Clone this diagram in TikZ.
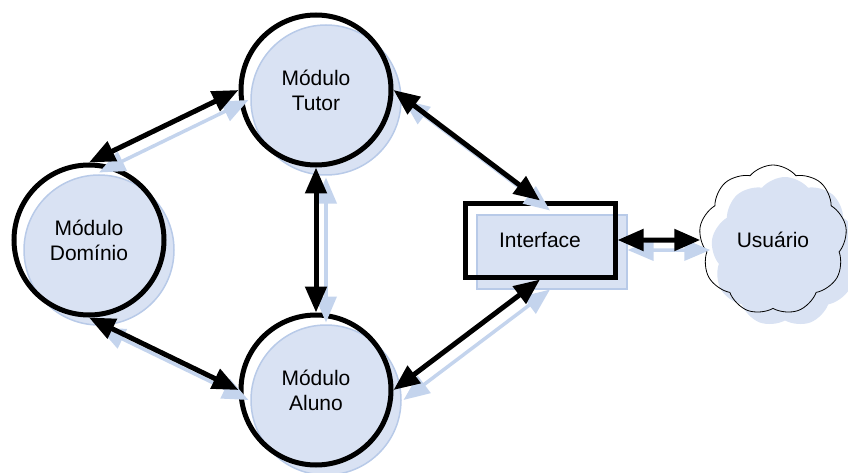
\documentclass[tikz,border=0pt]{standalone}
\usepackage{fontspec}
\setmainfont{Liberation Sans}
\usetikzlibrary{positioning,shapes.symbols,arrows.meta}

\definecolor{azulfundo}{RGB}{217,226,243}
\definecolor{azulborda}{RGB}{184,202,232}
\definecolor{azulseta}{RGB}{196,212,237}

\tikzset{
  sombra/.style={preaction={draw=azulborda,line width=1.5pt,fill=azulfundo,transform canvas={shift={(#1,-#1)}}}},
  modulo/.style={circle,draw=black,line width=5pt,minimum size=150pt,inner sep=0pt,align=center,sombra=10pt},
  caixa/.style={rectangle,draw=black,line width=5pt,minimum width=150pt,minimum height=74pt,sombra=12pt},
  nuvem/.style={cloud,cloud puffs=9,cloud puff arc=100,aspect=1,draw=black,line width=0.8pt,
    minimum width=148pt,minimum height=150pt,inner sep=0pt,
    preaction={fill=azulfundo,transform canvas={shift={(12pt,-12pt)}}}},
  liga/.style={line width=5pt,{Triangle[length=26pt,width=21pt]}-{Triangle[length=26pt,width=21pt]},
    preaction={draw=azulseta,line width=3.5pt,transform canvas={shift={(10pt,-10pt)}}}}
}

\begin{document}
\begin{tikzpicture}[x=1pt,y=1pt,node distance=150pt]
  \fontsize{21}{25}\selectfont
  \useasboundingbox (0,0) rectangle (848,-473);
  \coordinate (meio) at (316,-240);
  \node[modulo](tutor) [above of=meio] {Módulo\\Tutor};
  \node[modulo](aluno) [below of=meio] {Módulo\\Aluno};
  \node[modulo,node distance=227pt](dominio) [left of=meio] {Módulo\\Domínio};
  \node[caixa,node distance=224pt](interface) [right of=meio] {Interface};
  \node[nuvem,node distance=233pt](usuario) [right of=interface] {Usuário};
  \draw[liga] (dominio.north)--(tutor.west);
  \draw[liga] (dominio.south)--(aluno.west);
  \draw[liga] (tutor.south)--(aluno.north);
  \draw[liga] (tutor.east)--(interface.north);
  \draw[liga] (aluno.east)--(interface.south);
  \draw[liga] (interface.east)--(usuario.west);
\end{tikzpicture}
\end{document}
